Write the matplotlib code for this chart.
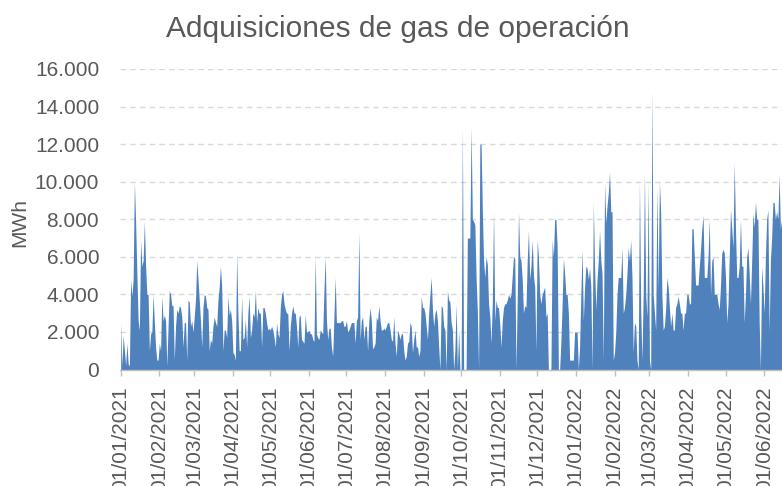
import matplotlib
matplotlib.use('Agg')
import numpy as np
import pandas as pd
import matplotlib.pyplot as plt
import matplotlib.dates as mdates
import matplotlib.ticker as mticker

plt.rcParams['font.family'] = ['Liberation Sans', 'DejaVu Sans']

# MWh diarios, un array por mes
ene_21 = [2500, 200, 1800, 1000, 200, 1400, 300, 200, 4800, 3900, 4800, 10000, 7800, 5100, 2600, 2100,
          6900, 5500, 5800, 7900, 5500, 4000, 4000, 1000, 1900, 2000, 4000, 2500, 1200, 500, 500]
feb_21 = [1400, 1000, 3900, 2600, 2900, 2600, 200, 2300, 4200, 4000, 3400, 3400, 500, 2300, 3200, 3000,
          3400, 3300, 2800, 1200, 2500, 2500, 500, 3700, 3600, 2300, 2600, 2000]
mar_21 = [2800, 3700, 5800, 4800, 3700, 2600, 1200, 3300, 4000, 3900, 3300, 3200, 1000, 1600, 1400, 2300,
          2800, 2500, 2300, 3700, 4400, 5500, 4400, 1000, 2100, 2100, 1700, 3900, 2900, 3200, 2600]
abr_21 = [900, 800, 500, 6200, 3000, 1000, 1000, 3900, 1600, 1700, 2700, 1200, 3000, 3900, 1700, 2100,
          3000, 2800, 4200, 2500, 3300, 3000, 3000, 1200, 3300, 3300, 3000, 2500, 2100, 2200]
may_21 = [2100, 2300, 2100, 1700, 1200, 2500, 1900, 1700, 3300, 4000, 4200, 3500, 3200, 3000, 3000, 1000,
          2300, 3000, 3400, 3000, 3000, 2300, 1200, 2800, 2900, 1600, 1500, 1400, 2900, 2000, 2000]
jun_21 = [2100, 1900, 1900, 1600, 1500, 6000, 1900, 1700, 1600, 2100, 2000, 1900, 4200, 6000, 2600, 1600,
          2200, 2200, 1200, 700, 2800, 4900, 2500, 2500, 2500, 2500, 2600, 2600, 2300, 2300]
jul_21 = [2600, 2000, 2100, 2300, 2500, 2500, 2500, 1400, 2600, 2800, 7300, 1600, 2600, 2800, 1600, 2300,
          2300, 1000, 2600, 3300, 2600, 1100, 1200, 1400, 2800, 2600, 3400, 2600, 2100, 2100, 2200]
ago_21 = [2100, 2300, 2500, 2500, 2100, 1600, 1500, 2800, 1400, 700, 2100, 1900, 1600, 1900, 1900, 1000,
          500, 700, 1400, 1500, 2500, 2300, 900, 1600, 2100, 1200, 1200, 700, 1000, 3900, 3300]
sep_21 = [3300, 3000, 2300, 1600, 3000, 4000, 4900, 3200, 2300, 3000, 3200, 2600, 1200, 0, 3400, 3300,
          2300, 2100, 0, 4200, 3700, 3600, 2500, 2100, 0, 1000, 3500, 0, 2100, 0]
oct_21 = [0, 12900, 0, 0, 0, 7000, 7000, 7000, 12900, 8000, 7900, 7700, 4900, 3100, 0, 12000,
          12000, 8500, 5800, 4900, 6000, 5600, 3500, 2800, 1400, 3500, 8400, 2600, 3700, 3300, 3300]
nov_21 = [2400, 1200, 2600, 3300, 3500, 3500, 3700, 4000, 3800, 4000, 5000, 6000, 5900, 0, 3700, 8400,
          6000, 5800, 4800, 3000, 3400, 3300, 5800, 7400, 4800, 5500, 6900, 5000, 4400, 1000]
dic_21 = [6900, 6000, 4000, 3500, 4000, 4200, 4400, 2800, 3000, 0, 0, 0, 6900, 6000, 8000, 8000,
          6500, 0, 0, 1500, 3500, 5900, 5100, 4000, 4000, 3000, 500, 500, 500, 500, 2000]
ene_22 = [2000, 2000, 0, 1200, 4000, 6400, 2600, 4400, 5500, 5400, 4800, 5400, 4400, 0, 8900, 5500,
          3200, 4800, 5800, 7400, 5800, 5100, 500, 10000, 7800, 8700, 9400, 10500, 8400, 8400, 500]
feb_22 = [900, 2000, 4000, 4900, 4900, 4900, 6500, 3000, 3300, 4000, 5100, 6500, 5800, 6900, 4900, 900,
          2500, 2300, 500, 0, 10000, 3200, 500, 4000, 10400, 4000, 2800, 9900]
mar_22 = [500, 0, 14900, 4000, 3000, 2100, 9700, 4200, 10000, 8400, 4000, 2100, 2300, 3200, 4900, 4400,
          3300, 2300, 3000, 2100, 2100, 3300, 3500, 3900, 3500, 3000, 3000, 2100, 3000, 3000, 4000]
abr_22 = [4000, 3500, 3500, 7500, 7500, 6000, 4500, 4500, 4500, 5500, 6400, 7500, 8200, 4900, 4900, 4900,
          6000, 8000, 4000, 5800, 6000, 4000, 4000, 4000, 3500, 3200, 4500, 6200, 6400, 6200]
may_22 = [4900, 2500, 3500, 6000, 8500, 7500, 6500, 11000, 7500, 4900, 4900, 5500, 8000, 5500, 5500, 2500,
          4000, 6000, 6500, 5100, 3500, 5800, 8300, 7600, 8900, 8000, 8000, 2500, 0, 5500, 4400]
jun_22 = [3000, 6000, 8000, 8500, 2000, 5800, 7000, 8900, 8900, 8000, 8400, 8000, 10400, 7500, 8000, 8000]

meses = [ene_21, feb_21, mar_21, abr_21, may_21, jun_21, jul_21, ago_21, sep_21, oct_21, nov_21, dic_21,
         ene_22, feb_22, mar_22, abr_22, may_22, jun_22]
valores = np.concatenate(meses)
fechas = pd.date_range('2021-01-01', periods=len(valores), freq='D')

gris = '#595959'
fig = plt.figure(figsize=(7.82, 4.86), dpi=100)
ax = fig.add_axes([120 / 782, 1 - 369.5 / 486, 662 / 782, 300.5 / 486])

ax.fill_between(fechas, valores, 0, color='#4F81BD', lw=0)

inicio = pd.Timestamp('2021-01-01')
ax.set_xlim(inicio - pd.Timedelta(hours=13), inicio + pd.Timedelta(days=530.3))
ax.set_ylim(0, 16000)

ax.yaxis.set_major_locator(mticker.MultipleLocator(2000))
ax.yaxis.set_major_formatter(mticker.FuncFormatter(lambda v, p: f'{int(v):,}'.replace(',', '.')))
ax.grid(axis='y', color='#d9d9d9', linestyle=(0, (4, 3)), lw=1)
ax.set_axisbelow(True)

ax.xaxis.set_major_locator(mdates.MonthLocator())
ax.xaxis.set_major_formatter(mdates.DateFormatter('%d/%m/%Y'))

for s in ['top', 'right', 'left']:
    ax.spines[s].set_visible(False)
ax.spines['bottom'].set_color('#bfbfbf')
ax.spines['bottom'].set_linewidth(1)

ax.tick_params(axis='y', length=0, pad=15, labelsize=15, labelcolor=gris)
ax.tick_params(axis='x', length=4, width=1, color='#bfbfbf', pad=8, labelsize=15,
               labelcolor=gris, labelrotation=90)

fig.text(398 / 782, 1 - 29 / 486, 'Adquisiciones de gas de operación', ha='center', va='center',
         fontsize=21.5, color=gris)
fig.text(20 / 782, 1 - 222 / 486, 'MWh', rotation=90, ha='center', va='center', fontsize=15, color=gris)

fig.savefig('out.png', dpi=100)
